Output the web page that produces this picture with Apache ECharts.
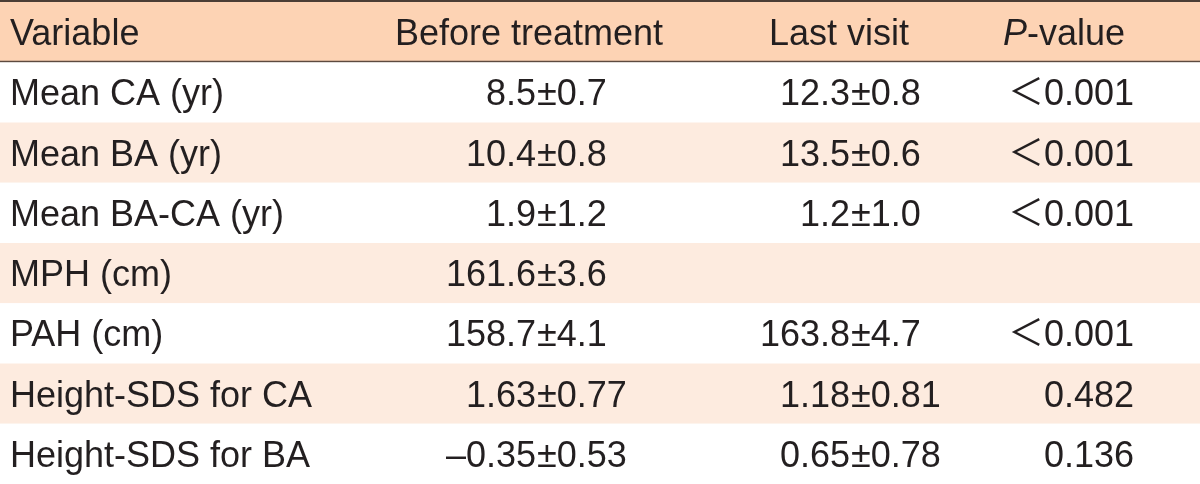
<!DOCTYPE html>
<html>
<head>
<meta charset="utf-8">
<style>
  html, body { margin: 0; padding: 0; background: #fff; }
  #main { width: 1200px; height: 484px; }
</style>
<script src="https://cdn.jsdelivr.net/npm/echarts@6/dist/echarts.min.js"></script>
</head>
<body>
<div id="main"></div>
<script>
    // table content
    var headers = ['Variable', 'Before treatment', 'Last visit', 'P-value']
    var variables = ['Mean CA (yr)', 'Mean BA (yr)', 'Mean BA-CA (yr)', 'MPH (cm)', 'PAH (cm)', 'Height-SDS for CA', 'Height-SDS for BA']
    var beforeTreatment = ['8.5±0.7', '10.4±0.8', '1.9±1.2', '161.6±3.6', '158.7±4.1', '1.63±0.77', '–0.35±0.53']
    var lastVisit = ['12.3±0.8', '13.5±0.6', '1.2±1.0', '', '163.8±4.7', '1.18±0.81', '0.65±0.78']
    var pValues = ['＜0.001', '＜0.001', '＜0.001', '', '＜0.001', '0.482', '0.136']

    var textColor = '#231f20'
    var font = '"Liberation Sans", Arial, "Noto Sans CJK KR", sans-serif'
    var fontSize = 36

    var chart = echarts.init(document.getElementById('main'), null, {renderer: 'canvas'})

    function txt(x, y, s, align) {
        return {
            type: 'text',
            style: {
                x: x, y: y, text: s, align: align, verticalAlign: 'middle',
                fill: textColor, fontFamily: font, fontSize: fontSize
            }
        }
    }

    // split at ± so the column lines up on the sign
    function pmText(anchor, y, s) {
        if (!s) return []
        var i = s.indexOf('±')
        return [txt(anchor - 1, y, s.slice(0, i), 'right'), txt(anchor, y, s.slice(i), 'left')]
    }

    function renderItem(params, api) {
        var idx = api.value(0)
        var c = api.coord([0, idx])
        var h = api.size([0, 1])[1]
        var top = c[1] - h / 2
        var w = api.getWidth()
        var cy = c[1] + 3
        var children = []
        var bg = idx === 0 ? '#fdd3b4' : (idx % 2 === 0 ? '#fdebdf' : '#ffffff')
        children.push({type: 'rect', shape: {x: 0, y: top, width: w, height: h}, style: {fill: bg}})
        if (idx === 0) {
            children.push({type: 'line', shape: {x1: 0, y1: 1, x2: w, y2: 1}, style: {stroke: '#4a3d35', lineWidth: 2}})
            children.push({type: 'line', shape: {x1: 0, y1: top + h - 0.5, x2: w, y2: top + h - 0.5}, style: {stroke: '#5c4a3f', lineWidth: 2}})
            cy = c[1] + 3
            children.push(txt(api.coord([10, 0])[0], cy, headers[0], 'left'))
            children.push(txt(api.coord([529, 0])[0], cy, headers[1], 'center'))
            children.push(txt(api.coord([839, 0])[0], cy, headers[2], 'center'))
            children.push({
                type: 'text',
                style: {
                    x: api.coord([1064, 0])[0], y: cy, align: 'center', verticalAlign: 'middle',
                    text: '{i|P}-value', fill: textColor, fontFamily: font, fontSize: fontSize,
                    rich: {i: {fontStyle: 'italic', fontFamily: font, fontSize: fontSize, fill: textColor}}
                }
            })
        } else {
            var r = idx - 1
            children.push(txt(api.coord([10, 0])[0], cy, variables[r], 'left'))
            children = children.concat(pmText(api.coord([537, 0])[0], cy, beforeTreatment[r]))
            children = children.concat(pmText(api.coord([851, 0])[0], cy, lastVisit[r]))
            if (pValues[r]) children.push(txt(api.coord([1134, 0])[0], cy, pValues[r], 'right'))
        }
        return {type: 'group', children: children}
    }

    var rowIds = ['header'].concat(variables)

    chart.setOption({
        animation: false,
        grid: {left: 0, right: 0, top: 2, bottom: 0},
        xAxis: {type: 'value', min: 0, max: 1200, show: false},
        yAxis: {type: 'category', data: rowIds, inverse: true, show: false},
        series: [{
            type: 'custom',
            renderItem: renderItem,
            data: rowIds.map(function (d, i) { return [i] }),
            encode: {y: 0},
            clip: false
        }]
    })
</script>
</body>
</html>
